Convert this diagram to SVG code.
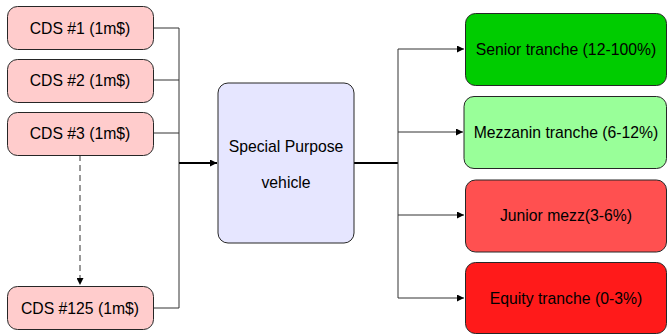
<svg xmlns="http://www.w3.org/2000/svg" width="667" height="334" viewBox="0 0 667 334">
<style>
.box{stroke:#262626;stroke-width:1}
.cds{fill:#ffcccc}
.t{font-family:"Liberation Sans",Arial,sans-serif;font-size:15.75px;fill:#000;text-anchor:middle;dominant-baseline:central}
.ln{fill:none;stroke:#333;stroke-width:1}
.thick{fill:none;stroke:#000;stroke-width:2}
</style>
<defs>
<marker id="ah" viewBox="0 0 10 10" refX="10" refY="5" markerWidth="10" markerHeight="7" markerUnits="userSpaceOnUse" orient="auto">
<path d="M0,0 L10,5 L0,10 Z" fill="#000"/>
</marker>
</defs>
<rect width="667" height="334" fill="#fff"/>
<g id="connectors">
<path class="ln" d="M153,28 H179 V308 H153 M153,80 H179 M153,133 H179"/>
<path class="thick" d="M179,163 H217" marker-end="url(#ah)"/>
<path class="thick" d="M354,163 H398"/>
<path class="ln" d="M398,49 V298"/>
<path class="ln" d="M398,49 H464" marker-end="url(#ah)"/>
<path class="ln" d="M398,132 H463" marker-end="url(#ah)"/>
<path class="ln" d="M398,215 H464" marker-end="url(#ah)"/>
<path class="ln" d="M398,298 H464" marker-end="url(#ah)"/>
<path class="ln" d="M80,155 V285" stroke-dasharray="6,4" marker-end="url(#ah)"/>
</g>
<g id="cds1"><rect class="box cds" x="7.5" y="6.5" width="146" height="43" rx="10"/><text class="t" x="80" y="28">CDS #1 (1m$)</text></g>
<g id="cds2"><rect class="box cds" x="7.5" y="59.5" width="146" height="43" rx="10"/><text class="t" x="80" y="80">CDS #2 (1m$)</text></g>
<g id="cds3"><rect class="box cds" x="7.5" y="112.5" width="146" height="43" rx="10"/><text class="t" x="80" y="133">CDS #3 (1m$)</text></g>
<g id="cds125"><rect class="box cds" x="7.5" y="286.5" width="146" height="43" rx="10"/><text class="t" x="80" y="308">CDS #125 (1m$)</text></g>
<g id="spv"><rect class="box" fill="#e6e6ff" x="218" y="83" width="136" height="160" rx="10"/><text class="t" x="286" y="146">Special Purpose</text><text class="t" x="286" y="182">vehicle</text></g>
<g id="senior"><rect class="box" fill="#00cc00" x="465.5" y="13.5" width="201" height="72" rx="10"/><text class="t" x="566" y="49">Senior tranche (12-100%)</text></g>
<g id="mezz"><rect class="box" fill="#99ff99" x="464" y="96.5" width="202.5" height="72" rx="10"/><text class="t" x="566" y="132">Mezzanin tranche (6-12%)</text></g>
<g id="junior"><rect class="box" fill="#ff5050" x="465.5" y="180" width="201" height="72" rx="10"/><text class="t" x="566" y="215">Junior mezz(3-6%)</text></g>
<g id="equity"><rect class="box" fill="#ff1a1a" x="465.5" y="262.5" width="201" height="71" rx="10"/><text class="t" x="566" y="298">Equity tranche (0-3%)</text></g>
</svg>
